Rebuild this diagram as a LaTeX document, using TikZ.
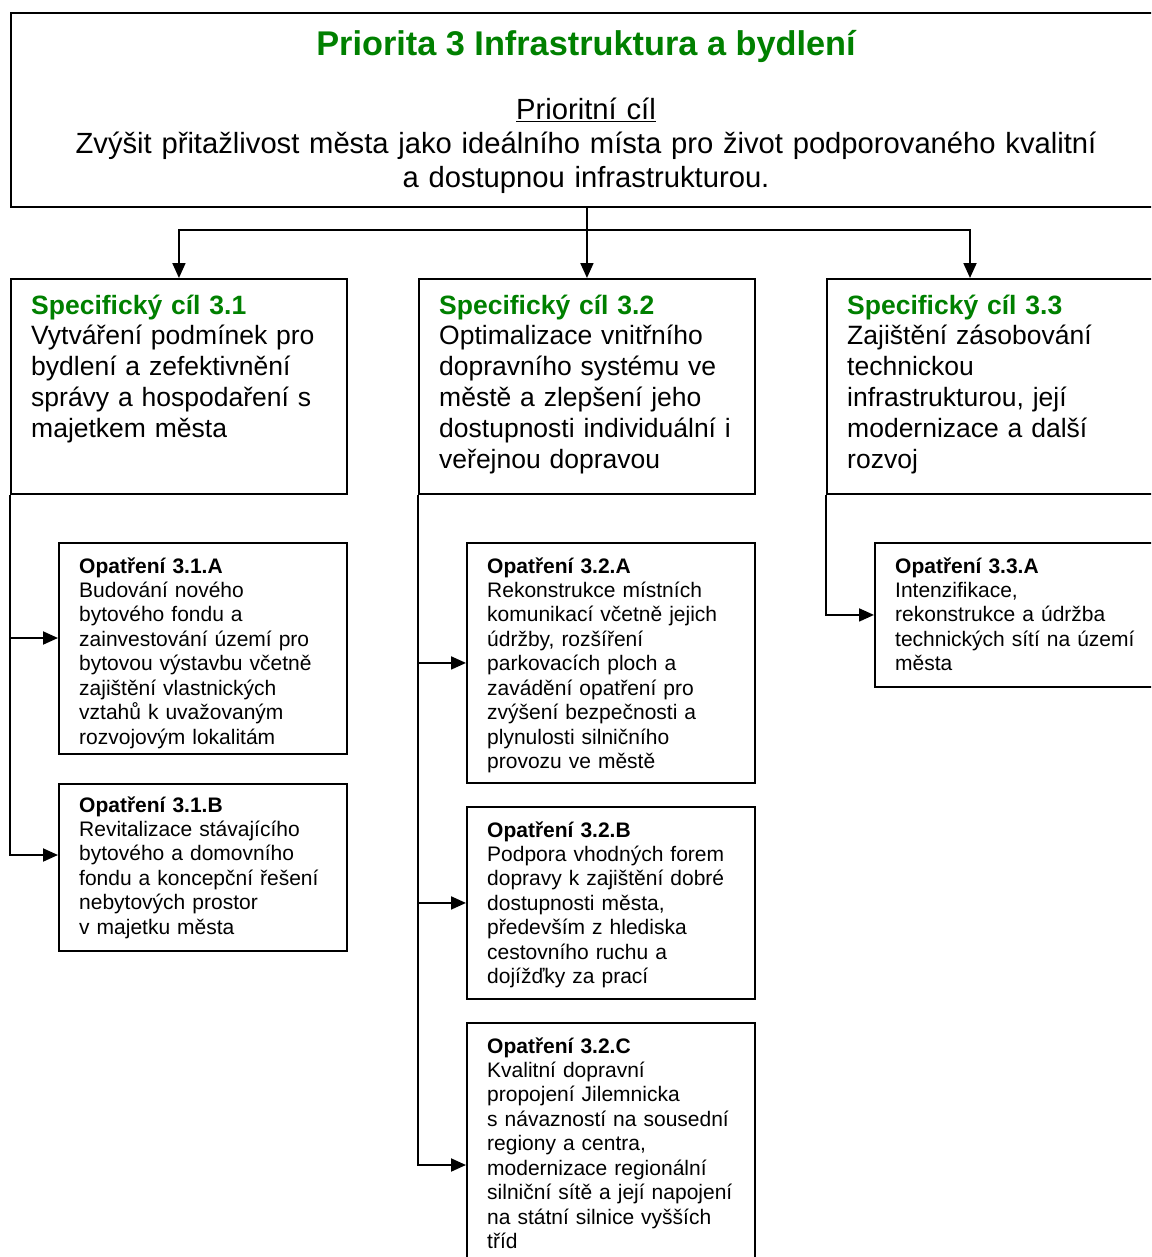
\documentclass[tikz,border=0pt]{standalone}
\usepackage{fontspec}
\setmainfont{Liberation Sans}
\usetikzlibrary{arrows.meta,calc}
\definecolor{titlegreen}{RGB}{0,128,0}
\begin{document}
\begin{tikzpicture}[x=1pt,y=-1pt,
  box/.style={draw, rectangle, line width=1.9pt, anchor=north west, inner sep=0pt},
  conn/.style={line width=1.9pt},
  arr/.style={conn, -{Triangle[length=15pt,width=13pt]}},
  toptitle/.style={anchor=base, inner sep=0pt, text=titlegreen, font=\fontsize{34.3}{40}\selectfont\bfseries},
  toptext/.style={anchor=base, inner sep=0pt, align=center, text width=1100pt, font=\fontsize{29.2}{34}\selectfont},
  spectext/.style={anchor=base west, inner sep=0pt, align=left, text width=320pt, font=\fontsize{26.5}{30.8}\selectfont},
  smalltext/.style={anchor=base west, inner sep=0pt, align=left, text width=300pt, font=\fontsize{21}{24.45}\selectfont}
]
\useasboundingbox (0,0) rectangle (1151,1257);
\clip (0,0) rectangle (1151,1257);

% top box
\node[box, minimum width=1152pt, minimum height=194pt] (top) at (10,12) {};
\node[toptitle] (ttitle) at (586,56) {Priorita 3 Infrastruktura a bydlení};
\node[toptext] (ttext) at (586,120) {\underline{Prioritní cíl}\\
Zvýšit přitažlivost města jako ideálního místa pro život podporovaného kvalitní\\
a dostupnou infrastrukturou.};

% specific goals
\node[box, minimum width=336pt, minimum height=215pt] (s1) at (10,278) {};
\node[box, minimum width=336pt, minimum height=215pt] (s2) at (418,278) {};
\node[box, minimum width=336pt, minimum height=215pt] (s3) at (826,278) {};

\node[spectext] (t1) at (31,314) {{\color{titlegreen}\bfseries Specifický cíl 3.1}\\
Vytváření podmínek pro\\ bydlení a zefektivnění\\ správy a hospodaření s\\ majetkem města};
\node[spectext] (t2) at (439,314) {{\color{titlegreen}\bfseries Specifický cíl 3.2}\\
Optimalizace vnitřního\\ dopravního systému ve\\ městě a zlepšení jeho\\ dostupnosti individuální i\\ veřejnou dopravou};
\node[spectext] (t3) at (847,314) {{\color{titlegreen}\bfseries Specifický cíl 3.3}\\
Zajištění zásobování\\ technickou\\ infrastrukturou, její\\ modernizace a další\\ rozvoj};

% measures
\node[box, minimum width=288pt, minimum height=211pt] (m31a) at (58,542) {};
\node[box, minimum width=288pt, minimum height=167pt] (m31b) at (58,783) {};
\node[box, minimum width=288pt, minimum height=240pt] (m32a) at (466,542) {};
\node[box, minimum width=288pt, minimum height=192pt] (m32b) at (466,806) {};
\node[box, minimum width=288pt, minimum height=260pt] (m32c) at (466,1022) {};
\node[box, minimum width=288pt, minimum height=144pt] (m33a) at (874,542) {};

\node[smalltext] (x31a) at (79,573) {\textbf{Opatření 3.1.A}\\
Budování nového\\ bytového fondu a\\ zainvestování území pro\\ bytovou výstavbu včetně\\ zajištění vlastnických\\ vztahů k uvažovaným\\ rozvojovým lokalitám};
\node[smalltext] (x31b) at (79,812) {\textbf{Opatření 3.1.B}\\
Revitalizace stávajícího\\ bytového a domovního\\ fondu a koncepční řešení\\ nebytových prostor\\ v majetku města};
\node[smalltext] (x32a) at (487,573) {\textbf{Opatření 3.2.A}\\
Rekonstrukce místních\\ komunikací včetně jejich\\ údržby, rozšíření\\ parkovacích ploch a\\ zavádění opatření pro\\ zvýšení bezpečnosti a\\ plynulosti silničního\\ provozu ve městě};
\node[smalltext] (x32b) at (487,837) {\textbf{Opatření 3.2.B}\\
Podpora vhodných forem\\ dopravy k zajištění dobré\\ dostupnosti města,\\ především z hlediska\\ cestovního ruchu a\\ dojížďky za prací};
\node[smalltext] (x32c) at (487,1053) {\textbf{Opatření 3.2.C}\\
Kvalitní dopravní\\ propojení Jilemnicka\\ s návazností na sousední\\ regiony a centra,\\ modernizace regionální\\ silniční sítě a její napojení\\ na státní silnice vyšších\\ tříd};
\node[smalltext] (x33a) at (895,573) {\textbf{Opatření 3.3.A}\\
Intenzifikace,\\ rekonstrukce a údržba\\ technických sítí na území\\ města};

% connectors from top
\coordinate (j) at (586,230);
\draw[arr] (s2.north |- top.south) -- (s2.north);
\draw[arr] (j) -| (s1.north);
\draw[arr] (j) -| ($(s3.north west)+(144,0)$);

% branches
\draw[arr] (s1.south west) |- ($(m31a.north west)+(0,96)$);
\draw[arr] (s1.south west) |- ($(m31b.north west)+(0,72)$);
\draw[arr] (s2.south west) |- (m32a.west);
\draw[arr] (s2.south west) |- (m32b.west);
\draw[arr] (s2.south west) |- ($(m32c.north west)+(0,143)$);
\draw[arr] (s3.south west) |- (m33a.west);
\end{tikzpicture}
\end{document}
